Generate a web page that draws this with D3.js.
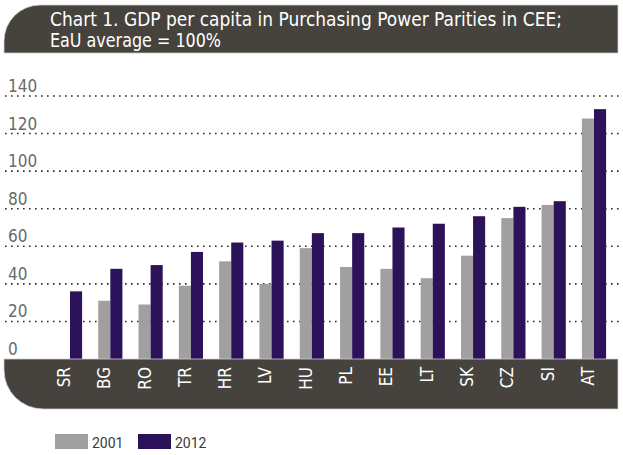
<!DOCTYPE html>
<html>
<head>
<meta charset="utf-8">
<script src="https://cdn.jsdelivr.net/npm/d3@7"></script>
<style>
  html, body { margin: 0; padding: 0; background: #fff; }
  svg { display: block; }
</style>
</head>
<body>
<svg id="chart" width="623" height="455"></svg>
<script>
const categories = ["SR","BG","RO","TR","HR","LV","HU","PL","EE","LT","SK","CZ","SI","AT"];
const values2001 = [null,31,29,39,52,40,59,49,48,43,55,75,82,128];
const values2012 = [36,48,50,57,62,63,67,67,70,72,76,81,84,133];
const seriesNames = ["2001","2012"];
const tickValues = [0,20,40,60,80,100,120,140];
const titleLines = ["Chart 1. GDP per capita in Purchasing Power Parities in CEE;", "EaU average = 100%"];

const colors = { "2001": "#a19fa0", "2012": "#2b1259" };
const bandColor = "#46433e";
const font = "'Liberation Sans Narrow', 'DejaVu Sans Condensed', 'Roboto', sans-serif";

const svg = d3.select("#chart");

const x = d3.scaleBand().domain(categories).range([49.85, 614.15]).paddingInner(0.4).paddingOuter(0.2);
const xs = d3.scaleBand().domain(seriesNames).range([0, x.bandwidth()]);
const y = d3.scaleLinear().domain([0, 140]).range([359, 96]);

// Title band
svg.append("path")
  .attr("d", "M4,53 V41 A36,36 0 0 1 40,5 H618 V53 Z")
  .attr("fill", bandColor)
  .attr("stroke", "#cfcfcf").attr("stroke-width", 0.8);

svg.append("text").attr("x", 50).attr("y", 26)
  .attr("fill", "#fff").attr("font-family", font).attr("font-size", 19)
  .attr("textLength", 512).attr("lengthAdjust", "spacingAndGlyphs")
  .text(titleLines[0]);
svg.append("text").attr("x", 50).attr("y", 47)
  .attr("fill", "#fff").attr("font-family", font).attr("font-size", 19)
  .attr("textLength", 171).attr("lengthAdjust", "spacingAndGlyphs")
  .text(titleLines[1]);

// Gridlines
const grid = svg.append("g");
grid.selectAll("line").data(tickValues.filter(d => d > 0)).join("line")
  .attr("x1", 5).attr("x2", 620)
  .attr("y1", d => y(d)).attr("y2", d => y(d))
  .attr("stroke", "#2a2a2a").attr("stroke-width", 1.6)
  .attr("stroke-dasharray", "1.6,4.4");

// Tick labels
svg.append("g").selectAll("text").data(tickValues).join("text")
  .attr("x", 8).attr("y", d => y(d) - 4)
  .attr("fill", "#6a6a6a").attr("font-family", font).attr("font-size", 17)
  .text(d => d);

// Bars
const groups = svg.append("g").selectAll("g").data(categories).join("g")
  .attr("transform", d => `translate(${x(d)},0)`);
groups.selectAll("rect")
  .data((d, i) => seriesNames.map((s) => ({ s, v: s === "2001" ? values2001[i] : values2012[i] })).filter(o => o.v != null))
  .join("rect")
  .attr("x", o => xs(o.s))
  .attr("width", xs.bandwidth())
  .attr("y", o => y(o.v))
  .attr("height", o => y(0) - y(o.v))
  .attr("fill", o => colors[o.s]);

// Bottom band
svg.append("path")
  .attr("d", "M4,359 H618 V409 H43 A39,39 0 0 1 4,370 Z")
  .attr("fill", bandColor)
  .attr("stroke", "#cfcfcf").attr("stroke-width", 0.8);

// Category labels
svg.append("g").selectAll("text").data(categories).join("text")
  .attr("transform", d => `translate(${x(d) + x.bandwidth() / 2 - 6},367) rotate(-90)`)
  .attr("text-anchor", "end").attr("dy", "0.35em")
  .attr("fill", "#fff").attr("font-family", font).attr("font-size", 17)
  .text(d => d);

// Legend
const legendX = [55, 138];
const legend = svg.append("g");
seriesNames.forEach((s, i) => {
  legend.append("rect").attr("x", legendX[i]).attr("y", 434).attr("width", 33).attr("height", 15).attr("fill", colors[s]);
  legend.append("text").attr("x", legendX[i] + 37).attr("y", 448)
    .attr("fill", "#3a3a3a").attr("font-family", "Roboto, sans-serif").attr("font-size", 14)
    .text(s);
});
</script>
</body>
</html>
